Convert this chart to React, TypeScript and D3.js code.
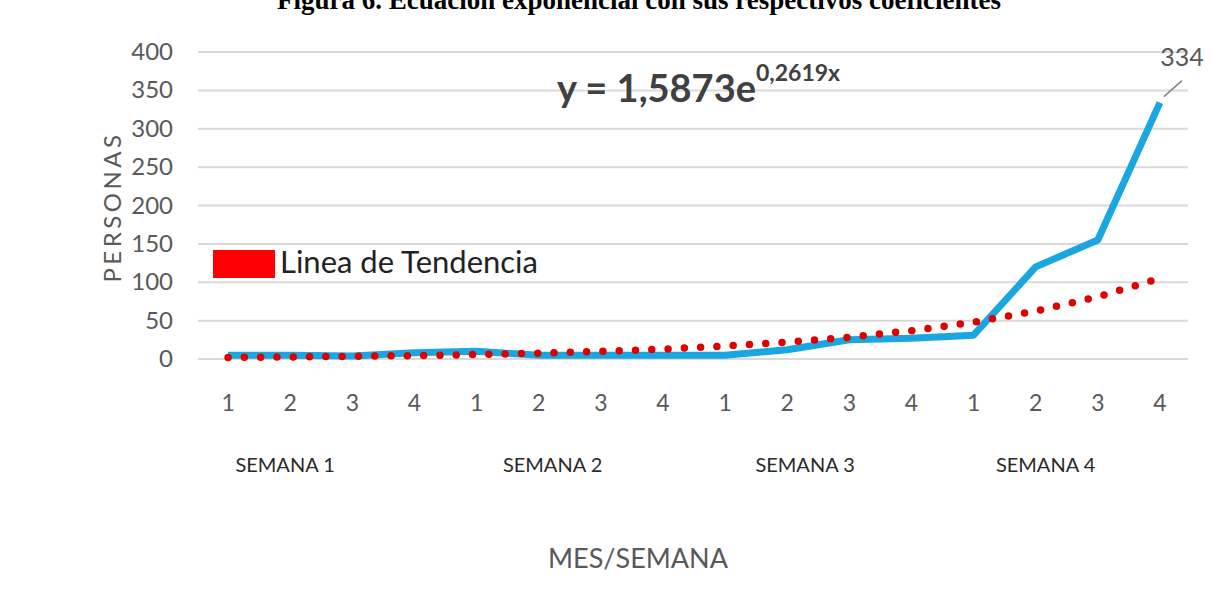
import React from "react";
import * as d3 from "d3";

const categories = ["1","2","3","4","1","2","3","4","1","2","3","4","1","2","3","4"];
const weeks = ["SEMANA 1", "SEMANA 2", "SEMANA 3", "SEMANA 4"];
const personas = [5, 5, 4, 8, 10, 5, 5, 5, 5, 12, 25, 27, 31, 120, 155, 334];
const tendencia = [2.1, 2.7, 3.5, 4.5, 5.8, 7.6, 9.9, 12.8, 16.8, 21.8, 28.4, 36.9, 48, 62.4, 81, 105];
const yTicks = [0, 50, 100, 150, 200, 250, 300, 350, 400];

const W = 1220, H = 592;
const left = 197, right = 1191, top = 52, bottom = 359;
const FONT = "Lato, 'Open Sans', sans-serif";
const weekOffsets = [57, 76, 80, 72];

export default function App() {
  const x = d3.scalePoint<number>().domain(d3.range(categories.length)).range([left, right]).padding(0.5);
  const y = d3.scaleLinear().domain([0, 400]).range([bottom, top]);
  const line = d3.line<number>().x((_, i) => x(i)!).y(d => y(d));
  const lastX = x(categories.length - 1)!;
  const lastY = y(personas[personas.length - 1]);
  return (
    <svg width={W} height={H} style={{ position: "absolute", left: 0, top: 0, background: "#fff" }}>
      <text x={639} y={9} textAnchor="middle" fontFamily="'Liberation Serif', 'Times New Roman', serif" fontWeight="bold" fontSize={27}>
        Figura 6.  Ecuación exponencial con sus respectivos coeficientes
      </text>
      {yTicks.map(t => (
        <g key={t}>
          <line x1={198} x2={1188} y1={y(t)} y2={y(t)} stroke="#d9d9d9" strokeWidth={2} />
          <text x={173} y={y(t) + 8} textAnchor="end" fontFamily={FONT} fontSize={24} fill="#595959">{t}</text>
        </g>
      ))}
      <text transform={`translate(121,207) rotate(-90)`} textAnchor="middle" fontFamily={FONT} fontSize={24} fill="#595959" letterSpacing={3.5}>PERSONAS</text>
      {categories.map((c, i) => (
        <text key={i} x={x(i)!} y={411} textAnchor="middle" fontFamily={FONT} fontSize={23} fill="#595959">{c}</text>
      ))}
      {weeks.map((w, k) => (
        <text key={w} x={x(k * 4)! + weekOffsets[k]} y={472} textAnchor="middle" fontFamily={FONT} fontSize={20} fill="#2a2a2a">{w}</text>
      ))}
      <text x={638} y={568} textAnchor="middle" fontFamily={FONT} fontSize={27} fill="#595959">MES/SEMANA</text>
      <path d={line(personas)!} fill="none" stroke="#1aa6e0" strokeWidth={7} strokeLinejoin="round" />
      <path d={line(tendencia)!} fill="none" stroke="#e00000" strokeWidth={7.5} strokeLinecap="round" strokeDasharray="0 16.3" />
      <line x1={lastX + 4} y1={lastY - 6} x2={lastX + 22} y2={lastY - 22} stroke="#808080" strokeWidth={1.5} />
      <text x={1182} y={66} textAnchor="middle" fontFamily={FONT} fontSize={25} fill="#595959">{personas[personas.length - 1]}</text>
      <rect x={213} y={250} width={62} height={28} fill="#ff0000" />
      <text x={280} y={273} fontFamily={FONT} fontSize={31} fill="#222">Linea de Tendencia</text>
      <text x={557} y={102} fontFamily={FONT} fontSize={38} fontWeight="bold" fill="#404040">
        y = 1,5873e<tspan fontSize={23} dy={-21}>0,2619x</tspan>
      </text>
    </svg>
  );
}
